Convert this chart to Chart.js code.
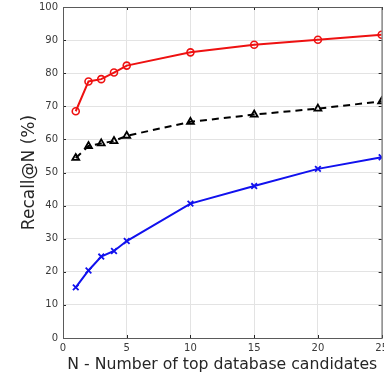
<!DOCTYPE html>
<html lang="en">
<head>
    <meta charset="UTF-8">
    <title>Recall@N</title>
    <script src="https://cdn.jsdelivr.net/npm/chart.js"></script>
    <style>
        html, body {
            margin: 0;
            padding: 0;
            background: #ffffff;
            overflow: hidden;
        }
        /* a bit wider/taller than the window so the last x label is cut like the original */
        .chart-box {
            width: 392px;
            height: 378px;
            margin-top: -4px;
            position: relative;
        }
    </style>
</head>
<body>
    <div class="chart-box">
        <canvas id="recallChart"></canvas>
    </div>
    <script>
        // N values (top database candidates)
        const nValues = [1, 2, 3, 4, 5, 10, 15, 20, 25];
        // recall curves
        const redRecall = [68.5, 77.5, 78.2, 80.2, 82.3, 86.3, 88.6, 90.1, 91.6];
        const blackRecall = [54.4, 58.0, 58.8, 59.5, 61.1, 65.3, 67.5, 69.3, 71.5];
        const blueRecall = [15.3, 20.4, 24.6, 26.3, 29.3, 40.6, 45.9, 51.1, 54.6];

        const xTicks = [0, 5, 10, 15, 20, 25];
        const yTicks = [0, 10, 20, 30, 40, 50, 60, 70, 80, 90, 100];

        const toPoints = arr => arr.map((v, i) => ({ x: nValues[i], y: v }));

        const tickColor = '#3a3a3a';
        const gridColor = '#e3e3e3';

        // matlab style box + inward tick marks
        const boxPlugin = {
            id: 'boxPlugin',
            afterDatasetsDraw(chart) {
                const { ctx, chartArea: a, scales } = chart;
                ctx.save();
                ctx.strokeStyle = '#262626';
                ctx.lineWidth = 1;
                ctx.beginPath();
                xTicks.forEach(t => {
                    const px = Math.round(scales.x.getPixelForValue(t)) + 0.5;
                    ctx.moveTo(px, a.bottom); ctx.lineTo(px, a.bottom - 3);
                    ctx.moveTo(px, a.top); ctx.lineTo(px, a.top + 3);
                });
                yTicks.forEach(t => {
                    const py = Math.round(scales.y.getPixelForValue(t)) + 0.5;
                    ctx.moveTo(a.left, py); ctx.lineTo(a.left + 3, py);
                    ctx.moveTo(a.right, py); ctx.lineTo(a.right - 3, py);
                });
                ctx.stroke();
                ctx.strokeStyle = '#5a5a5a';
                ctx.strokeRect(a.left + 0.5, a.top + 0.5, a.right - a.left, a.bottom - a.top);
                ctx.restore();
            }
        };

        new Chart(document.getElementById('recallChart'), {
            type: 'line',
            data: {
                datasets: [
                    {
                        data: toPoints(redRecall),
                        borderColor: '#ee1111',
                        backgroundColor: 'transparent',
                        borderWidth: 2,
                        pointStyle: 'circle',
                        pointRadius: 3.5,
                        pointBorderWidth: 1.6,
                        pointBorderColor: '#ee1111',
                        pointBackgroundColor: 'transparent'
                    },
                    {
                        data: toPoints(blackRecall),
                        borderColor: '#000000',
                        backgroundColor: 'transparent',
                        borderWidth: 2,
                        borderDash: [7, 5],
                        pointStyle: 'triangle',
                        pointRadius: 4,
                        pointBorderWidth: 1.8,
                        pointBorderColor: '#000000',
                        pointBackgroundColor: 'transparent'
                    },
                    {
                        data: toPoints(blueRecall),
                        borderColor: '#1111ee',
                        backgroundColor: 'transparent',
                        borderWidth: 2,
                        pointStyle: 'crossRot',
                        pointRadius: 4,
                        pointBorderWidth: 1.8,
                        pointBorderColor: '#1111ee'
                    }
                ]
            },
            options: {
                responsive: true,
                maintainAspectRatio: false,
                animation: false,
                layout: { padding: { top: 7, right: 9, left: 0, bottom: 0 } },
                plugins: {
                    legend: { display: false },
                    tooltip: { enabled: false }
                },
                scales: {
                    x: {
                        type: 'linear',
                        min: 0,
                        max: 25,
                        afterBuildTicks: s => { s.ticks = xTicks.map(v => ({ value: v })); },
                        afterFit: s => { s.height = 36; },
                        grid: { color: gridColor, drawTicks: false },
                        border: { color: '#5a5a5a' },
                        ticks: {
                            color: tickColor,
                            padding: 4,
                            maxRotation: 0,
                            font: { family: 'DejaVu Sans', size: 10 }
                        },
                        title: {
                            display: true,
                            text: 'N - Number of top database candidates',
                            color: '#262626',
                            padding: { top: 0, bottom: 0 },
                            font: { family: 'DejaVu Sans', size: 15.7 }
                        }
                    },
                    y: {
                        type: 'linear',
                        min: 0,
                        max: 100,
                        afterBuildTicks: s => { s.ticks = yTicks.map(v => ({ value: v })); },
                        afterFit: s => { s.width = 63; },
                        grid: { color: gridColor, drawTicks: false },
                        border: { color: '#5a5a5a' },
                        ticks: {
                            color: tickColor,
                            padding: 5,
                            font: { family: 'DejaVu Sans', size: 10 }
                        },
                        title: {
                            display: true,
                            text: 'Recall@N (%)',
                            color: '#262626',
                            padding: { top: 19, bottom: 0 },
                            font: { family: 'DejaVu Sans', size: 17 }
                        }
                    }
                }
            },
            plugins: [boxPlugin]
        });
    </script>
</body>
</html>
